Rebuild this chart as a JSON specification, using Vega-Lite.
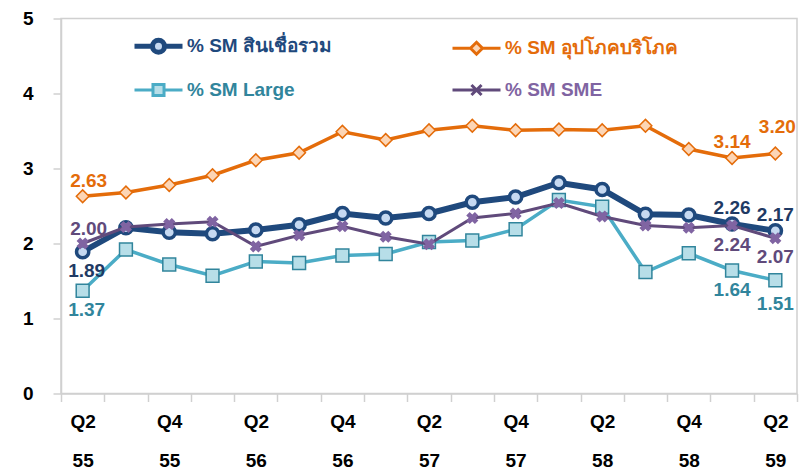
{
  "$schema": "https://vega.github.io/schema/vega-lite/v6.json",
  "width": 736,
  "height": 375,
  "autosize": {"type": "none"},
  "padding": {"left": 61, "top": 18.5, "right": 9, "bottom": 77.5},
  "background": "white",
  "config": {
    "view": {"stroke": "#D0D0D0", "strokeWidth": 1.5},
    "font": "Liberation Sans",
    "axis": {
      "grid": false,
      "domainColor": "#D0D0D0",
      "domainWidth": 1.5,
      "tickColor": "#D0D0D0",
      "tickWidth": 1.5,
      "tickSize": 8,
      "labelFont": "Liberation Sans",
      "labelFontSize": 19,
      "labelFontWeight": "bold",
      "labelColor": "#000000",
      "title": null
    }
  },
  "datasets": {
    "series": [
      {"q": "Q2 55", "s": "% SM สินเชื่อรวม", "v": 1.89},
      {"q": "Q3 55", "s": "% SM สินเชื่อรวม", "v": 2.21},
      {"q": "Q4 55", "s": "% SM สินเชื่อรวม", "v": 2.15},
      {"q": "Q1 56", "s": "% SM สินเชื่อรวม", "v": 2.13},
      {"q": "Q2 56", "s": "% SM สินเชื่อรวม", "v": 2.18},
      {"q": "Q3 56", "s": "% SM สินเชื่อรวม", "v": 2.25},
      {"q": "Q4 56", "s": "% SM สินเชื่อรวม", "v": 2.40},
      {"q": "Q1 57", "s": "% SM สินเชื่อรวม", "v": 2.34},
      {"q": "Q2 57", "s": "% SM สินเชื่อรวม", "v": 2.40},
      {"q": "Q3 57", "s": "% SM สินเชื่อรวม", "v": 2.55},
      {"q": "Q4 57", "s": "% SM สินเชื่อรวม", "v": 2.62},
      {"q": "Q1 58", "s": "% SM สินเชื่อรวม", "v": 2.81},
      {"q": "Q2 58", "s": "% SM สินเชื่อรวม", "v": 2.72},
      {"q": "Q3 58", "s": "% SM สินเชื่อรวม", "v": 2.39},
      {"q": "Q4 58", "s": "% SM สินเชื่อรวม", "v": 2.38},
      {"q": "Q1 59", "s": "% SM สินเชื่อรวม", "v": 2.26},
      {"q": "Q2 59", "s": "% SM สินเชื่อรวม", "v": 2.17},
      {"q": "Q2 55", "s": "% SM อุปโภคบริโภค", "v": 2.63},
      {"q": "Q3 55", "s": "% SM อุปโภคบริโภค", "v": 2.68},
      {"q": "Q4 55", "s": "% SM อุปโภคบริโภค", "v": 2.78},
      {"q": "Q1 56", "s": "% SM อุปโภคบริโภค", "v": 2.91},
      {"q": "Q2 56", "s": "% SM อุปโภคบริโภค", "v": 3.11},
      {"q": "Q3 56", "s": "% SM อุปโภคบริโภค", "v": 3.21},
      {"q": "Q4 56", "s": "% SM อุปโภคบริโภค", "v": 3.49},
      {"q": "Q1 57", "s": "% SM อุปโภคบริโภค", "v": 3.38},
      {"q": "Q2 57", "s": "% SM อุปโภคบริโภค", "v": 3.51},
      {"q": "Q3 57", "s": "% SM อุปโภคบริโภค", "v": 3.57},
      {"q": "Q4 57", "s": "% SM อุปโภคบริโภค", "v": 3.51},
      {"q": "Q1 58", "s": "% SM อุปโภคบริโภค", "v": 3.52},
      {"q": "Q2 58", "s": "% SM อุปโภคบริโภค", "v": 3.51},
      {"q": "Q3 58", "s": "% SM อุปโภคบริโภค", "v": 3.57},
      {"q": "Q4 58", "s": "% SM อุปโภคบริโภค", "v": 3.26},
      {"q": "Q1 59", "s": "% SM อุปโภคบริโภค", "v": 3.14},
      {"q": "Q2 59", "s": "% SM อุปโภคบริโภค", "v": 3.20},
      {"q": "Q2 55", "s": "% SM Large", "v": 1.37},
      {"q": "Q3 55", "s": "% SM Large", "v": 1.92},
      {"q": "Q4 55", "s": "% SM Large", "v": 1.72},
      {"q": "Q1 56", "s": "% SM Large", "v": 1.57},
      {"q": "Q2 56", "s": "% SM Large", "v": 1.76},
      {"q": "Q3 56", "s": "% SM Large", "v": 1.74},
      {"q": "Q4 56", "s": "% SM Large", "v": 1.84},
      {"q": "Q1 57", "s": "% SM Large", "v": 1.86},
      {"q": "Q2 57", "s": "% SM Large", "v": 2.02},
      {"q": "Q3 57", "s": "% SM Large", "v": 2.04},
      {"q": "Q4 57", "s": "% SM Large", "v": 2.19},
      {"q": "Q1 58", "s": "% SM Large", "v": 2.58},
      {"q": "Q2 58", "s": "% SM Large", "v": 2.49},
      {"q": "Q3 58", "s": "% SM Large", "v": 1.62},
      {"q": "Q4 58", "s": "% SM Large", "v": 1.87},
      {"q": "Q1 59", "s": "% SM Large", "v": 1.64},
      {"q": "Q2 59", "s": "% SM Large", "v": 1.51},
      {"q": "Q2 55", "s": "% SM SME", "v": 2.00},
      {"q": "Q3 55", "s": "% SM SME", "v": 2.22},
      {"q": "Q4 55", "s": "% SM SME", "v": 2.26},
      {"q": "Q1 56", "s": "% SM SME", "v": 2.29},
      {"q": "Q2 56", "s": "% SM SME", "v": 1.96},
      {"q": "Q3 56", "s": "% SM SME", "v": 2.11},
      {"q": "Q4 56", "s": "% SM SME", "v": 2.23},
      {"q": "Q1 57", "s": "% SM SME", "v": 2.09},
      {"q": "Q2 57", "s": "% SM SME", "v": 1.99},
      {"q": "Q3 57", "s": "% SM SME", "v": 2.34},
      {"q": "Q4 57", "s": "% SM SME", "v": 2.40},
      {"q": "Q1 58", "s": "% SM SME", "v": 2.54},
      {"q": "Q2 58", "s": "% SM SME", "v": 2.36},
      {"q": "Q3 58", "s": "% SM SME", "v": 2.24},
      {"q": "Q4 58", "s": "% SM SME", "v": 2.21},
      {"q": "Q1 59", "s": "% SM SME", "v": 2.24},
      {"q": "Q2 59", "s": "% SM SME", "v": 2.07}
    ]
  },
  "data": {"name": "series"},
  "encoding": {
    "x": {
      "field": "q",
      "type": "ordinal",
      "scale": {
        "type": "band",
        "paddingInner": 0,
        "paddingOuter": 0,
        "domain": ["Q2 55", "Q3 55", "Q4 55", "Q1 56", "Q2 56", "Q3 56", "Q4 56", "Q1 57", "Q2 57", "Q3 57", "Q4 57", "Q1 58", "Q2 58", "Q3 58", "Q4 58", "Q1 59", "Q2 59"]
      },
      "axis": {
        "tickBand": "extent",
        "labelAngle": 0,
        "labelPadding": 11,
        "labelLineHeight": 39,
        "labelBaseline": "top",
        "labelExpr": "(split(datum.value, ' ')[0] == 'Q2' || split(datum.value, ' ')[0] == 'Q4') ? split(datum.value, ' ') : ''"
      }
    },
    "y": {
      "field": "v",
      "type": "quantitative",
      "scale": {"domain": [0, 5], "nice": false},
      "axis": {"values": [0, 1, 2, 3, 4, 5], "labelPadding": 20, "labelBaseline": "middle"}
    }
  },
  "layer": [
    {
      "transform": [{"filter": "datum.s == '% SM สินเชื่อรวม'"}],
      "mark": {"type": "line", "color": "#1F497D", "strokeWidth": 6}
    },
    {
      "transform": [{"filter": "datum.s == '% SM สินเชื่อรวม'"}],
      "mark": {"type": "point", "shape": "circle", "size": 150, "filled": true, "fill": "#C6D9F1", "stroke": "#1F497D", "strokeWidth": 3.5, "opacity": 1}
    },
    {
      "transform": [{"filter": "datum.s == '% SM อุปโภคบริโภค'"}],
      "mark": {"type": "line", "color": "#E46C0A", "strokeWidth": 3.5}
    },
    {
      "transform": [{"filter": "datum.s == '% SM อุปโภคบริโภค'"}],
      "mark": {"type": "point", "shape": "diamond", "size": 160, "filled": true, "fill": "#FCD5B5", "stroke": "#E46C0A", "strokeWidth": 1.5, "opacity": 1}
    },
    {
      "transform": [{"filter": "datum.s == '% SM Large'"}],
      "mark": {"type": "line", "color": "#4BACC6", "strokeWidth": 3.5}
    },
    {
      "transform": [{"filter": "datum.s == '% SM Large'"}],
      "mark": {"type": "point", "shape": "square", "size": 165, "filled": true, "fill": "#B7DEE8", "stroke": "#31859C", "strokeWidth": 1.5, "opacity": 1}
    },
    {
      "transform": [{"filter": "datum.s == '% SM SME'"}],
      "mark": {"type": "line", "color": "#604A7B", "strokeWidth": 3}
    },
    {
      "transform": [{"filter": "datum.s == '% SM SME'"}],
      "mark": {"type": "point", "shape": "cross", "angle": 45, "size": 150, "filled": true, "fill": "#8064A2", "strokeWidth": 0, "opacity": 1}
    },
    {
      "transform": [{"filter": "false"}],
      "mark": {"type": "point", "opacity": 1},
      "encoding": {
        "stroke": {
          "field": "s",
          "type": "nominal",
          "scale": {
            "domain": ["% SM สินเชื่อรวม", "% SM Large", "% SM อุปโภคบริโภค", "% SM SME"],
            "range": ["#1F497D", "#4BACC6", "#E46C0A", "#604A7B"]
          },
          "legend": {
            "title": null,
            "orient": "none",
            "legendX": 88,
            "legendY": 18,
            "columns": 2,
            "columnPadding": 114,
            "rowPadding": 15,
            "padding": 0,
            "symbolSize": 576,
            "labelFont": "Liberation Sans",
            "labelFontSize": 19,
            "labelFontWeight": "bold",
            "labelOffset": 19,
            "labelLimit": 400,
            "labelColor": {"expr": "datum.value == '% SM สินเชื่อรวม' ? '#1F497D' : datum.value == '% SM อุปโภคบริโภค' ? '#E46C0A' : datum.value == '% SM Large' ? '#31859C' : '#8064A2'"},
            "symbolStrokeWidth": {"expr": "datum.value == '% SM สินเชื่อรวม' ? 5 : 3"}
          }
        },
        "fill": {
          "field": "s",
          "type": "nominal",
          "scale": {
            "domain": ["% SM สินเชื่อรวม", "% SM Large", "% SM อุปโภคบริโภค", "% SM SME"],
            "range": ["#C6D9F1", "#B7DEE8", "#FCD5B5", "#8064A2"]
          }
        },
        "shape": {
          "field": "s",
          "type": "nominal",
          "scale": {
            "domain": ["% SM สินเชื่อรวม", "% SM Large", "% SM อุปโภคบริโภค", "% SM SME"],
            "range": [
              "M-2,0H-0.5M0.5,0H2M0.5,0A0.5,0.5,0,1,1,-0.5,0A0.5,0.5,0,1,1,0.5,0Z",
              "M-2,0H-0.46M0.46,0H2M-0.46,-0.46H0.46V0.46H-0.46Z",
              "M-2,0H-0.5M0.5,0H2M0,-0.5L0.5,0L0,0.5L-0.5,0Z",
              "M-2,0H2M-0.42,-0.42L0.42,0.42M-0.42,0.42L0.42,-0.42"
            ]
          }
        }
      }
    },
    {
      "transform": [{"filter": "datum.q == 'Q2 55' && (datum.s == '% SM อุปโภคบริโภค' || datum.s == '% SM SME')"}],
      "mark": {"type": "text", "align": "center", "baseline": "middle", "dx": 6, "dy": -15, "font": "Liberation Sans", "fontSize": 19, "fontWeight": "bold"},
      "encoding": {
        "text": {"field": "v", "type": "quantitative", "format": ".2f"},
        "color": {"field": "s", "type": "nominal", "legend": null, "scale": {"domain": ["% SM สินเชื่อรวม", "% SM อุปโภคบริโภค", "% SM Large", "% SM SME"], "range": ["#1F3A64", "#E46C0A", "#31859C", "#604A7B"]}}
      }
    },
    {
      "transform": [{"filter": "datum.q == 'Q2 55' && (datum.s == '% SM สินเชื่อรวม' || datum.s == '% SM Large')"}],
      "mark": {"type": "text", "align": "center", "baseline": "middle", "dx": 4, "dy": 19, "font": "Liberation Sans", "fontSize": 19, "fontWeight": "bold"},
      "encoding": {
        "text": {"field": "v", "type": "quantitative", "format": ".2f"},
        "color": {"field": "s", "type": "nominal", "legend": null}
      }
    },
    {
      "transform": [{"filter": "(datum.q == 'Q1 59' && (datum.s == '% SM อุปโภคบริโภค' || datum.s == '% SM สินเชื่อรวม')) || (datum.q == 'Q2 59' && datum.s == '% SM สินเชื่อรวม')"}],
      "mark": {"type": "text", "align": "center", "baseline": "middle", "dy": -16, "font": "Liberation Sans", "fontSize": 19, "fontWeight": "bold"},
      "encoding": {
        "text": {"field": "v", "type": "quantitative", "format": ".2f"},
        "color": {"field": "s", "type": "nominal", "legend": null}
      }
    },
    {
      "transform": [{"filter": "datum.q == 'Q2 59' && datum.s == '% SM อุปโภคบริโภค'"}],
      "mark": {"type": "text", "align": "center", "baseline": "middle", "dx": 2, "dy": -27, "font": "Liberation Sans", "fontSize": 19, "fontWeight": "bold"},
      "encoding": {
        "text": {"field": "v", "type": "quantitative", "format": ".2f"},
        "color": {"field": "s", "type": "nominal", "legend": null}
      }
    },
    {
      "transform": [{"filter": "(datum.q == 'Q1 59' && (datum.s == '% SM SME' || datum.s == '% SM Large')) || (datum.q == 'Q2 59' && datum.s == '% SM SME')"}],
      "mark": {"type": "text", "align": "center", "baseline": "middle", "dy": 19, "font": "Liberation Sans", "fontSize": 19, "fontWeight": "bold"},
      "encoding": {
        "text": {"field": "v", "type": "quantitative", "format": ".2f"},
        "color": {"field": "s", "type": "nominal", "legend": null}
      }
    },
    {
      "transform": [{"filter": "datum.q == 'Q2 59' && datum.s == '% SM Large'"}],
      "mark": {"type": "text", "align": "center", "baseline": "middle", "dy": 24, "font": "Liberation Sans", "fontSize": 19, "fontWeight": "bold"},
      "encoding": {
        "text": {"field": "v", "type": "quantitative", "format": ".2f"},
        "color": {"field": "s", "type": "nominal", "legend": null}
      }
    }
  ]
}
